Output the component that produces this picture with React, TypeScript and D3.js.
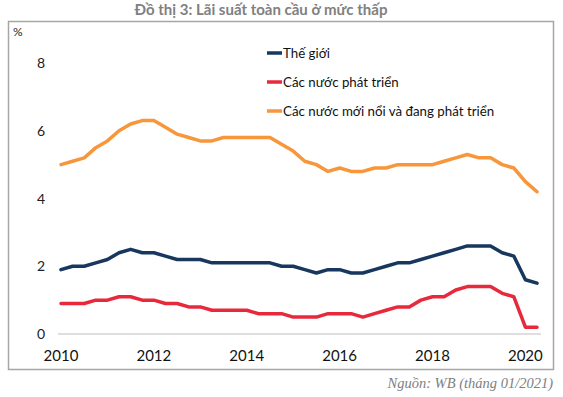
import * as React from 'react';
import * as d3 from 'd3';

// quarterly data, 2010Q1 .. 2020Q2
const world = [1.9, 2.0, 2.0, 2.1, 2.2, 2.4, 2.5, 2.4, 2.4, 2.3, 2.2, 2.2, 2.2, 2.1, 2.1, 2.1, 2.1, 2.1, 2.1, 2.0, 2.0,
  1.9, 1.8, 1.9, 1.9, 1.8, 1.8, 1.9, 2.0, 2.1, 2.1, 2.2, 2.3, 2.4, 2.5, 2.6, 2.6, 2.6, 2.4, 2.3, 1.6, 1.5];
const developed = [0.9, 0.9, 0.9, 1.0, 1.0, 1.1, 1.1, 1.0, 1.0, 0.9, 0.9, 0.8, 0.8, 0.7, 0.7, 0.7, 0.7, 0.6, 0.6, 0.6, 0.5,
  0.5, 0.5, 0.6, 0.6, 0.6, 0.5, 0.6, 0.7, 0.8, 0.8, 1.0, 1.1, 1.1, 1.3, 1.4, 1.4, 1.4, 1.2, 1.1, 0.2, 0.2];
const emerging = [5.0, 5.1, 5.2, 5.5, 5.7, 6.0, 6.2, 6.3, 6.3, 6.1, 5.9, 5.8, 5.7, 5.7, 5.8, 5.8, 5.8, 5.8, 5.8, 5.6, 5.4,
  5.1, 5.0, 4.8, 4.9, 4.8, 4.8, 4.9, 4.9, 5.0, 5.0, 5.0, 5.0, 5.1, 5.2, 5.3, 5.2, 5.2, 5.0, 4.9, 4.5, 4.2];
const seriesNames = ['Thế giới', 'Các nước phát triển', 'Các nước mới nổi và đang phát triển'];
const seriesColors = ['#17375e', '#e8283b', '#f7963b'];
const xTicks = [2010, 2012, 2014, 2016, 2018, 2020];
const yTicks = [0, 2, 4, 6, 8];

const App = () => {
  const ref = React.useRef<SVGSVGElement>(null);

  React.useEffect(() => {
    const svg = d3.select(ref.current);
    svg.selectAll('*').remove();

    const x = d3.scaleLinear().domain([2010, 2020.25]).range([61, 537]);
    const y = d3.scaleLinear().domain([0, 8]).range([334, 63]);

    svg.append('text')
      .attr('x', 261).attr('y', 15)
      .attr('text-anchor', 'middle')
      .attr('font-family', 'Lato, sans-serif')
      .attr('font-weight', 'bold')
      .attr('font-size', 15)
      .attr('fill', '#808080')
      .text('Đồ thị 3: Lãi suất toàn cầu ở mức thấp');

    svg.append('rect')
      .attr('x', 8.5).attr('y', 21.5)
      .attr('width', 545).attr('height', 348)
      .attr('fill', 'white')
      .attr('stroke', '#a6a6a6')
      .attr('stroke-width', 1.5);

    svg.append('text')
      .attr('x', 13).attr('y', 36)
      .attr('font-family', 'Lato, sans-serif')
      .attr('font-size', 12)
      .attr('fill', '#222')
      .text('%');

    svg.append('line')
      .attr('x1', 58).attr('x2', 541)
      .attr('y1', y(0)).attr('y2', y(0))
      .attr('stroke', '#bfbfbf')
      .attr('stroke-width', 1);

    svg.append('g').selectAll('text')
      .data(yTicks)
      .join('text')
      .attr('x', 45)
      .attr('y', d => y(d) + 5)
      .attr('text-anchor', 'end')
      .attr('font-family', 'Lato, sans-serif')
      .attr('font-size', 14)
      .attr('fill', '#222')
      .text(d => d);

    svg.append('g').selectAll('text')
      .data(xTicks)
      .join('text')
      .attr('x', d => x(d))
      .attr('y', 361)
      .attr('text-anchor', 'middle')
      .attr('font-family', 'Lato, sans-serif')
      .attr('font-size', 15)
      .attr('fill', '#111')
      .text(d => d);

    const all = [world, developed, emerging];
    const line = d3.line<number>()
      .x((d, i) => x(2010 + i / 4))
      .y(d => y(d));

    all.forEach((s, k) => {
      svg.append('path')
        .datum(s)
        .attr('fill', 'none')
        .attr('stroke', seriesColors[k])
        .attr('stroke-width', 3.5)
        .attr('stroke-linejoin', 'round')
        .attr('stroke-linecap', 'round')
        .attr('d', line);
    });

    const legend = svg.append('g');
    seriesNames.forEach((name, k) => {
      const ly = 53 + k * 29;
      legend.append('line')
        .attr('x1', 267).attr('x2', 282)
        .attr('y1', ly).attr('y2', ly)
        .attr('stroke', seriesColors[k])
        .attr('stroke-width', 3.5);
      legend.append('text')
        .attr('x', 283).attr('y', ly + 4.5)
        .attr('font-family', 'Lato, sans-serif')
        .attr('font-size', 13.3)
        .attr('fill', '#111')
        .text(name);
    });

    svg.append('text')
      .attr('x', 553).attr('y', 388)
      .attr('text-anchor', 'end')
      .attr('font-family', '"Liberation Serif", serif')
      .attr('font-style', 'italic')
      .attr('font-size', 14.5)
      .attr('fill', '#808080')
      .text('Nguồn: WB (tháng 01/2021)');
  }, []);

  return (
    <svg ref={ref} width={563} height={397} style={{ position: 'absolute', left: 0, top: 0, background: 'white' }}></svg>
  );
};

export default App;
